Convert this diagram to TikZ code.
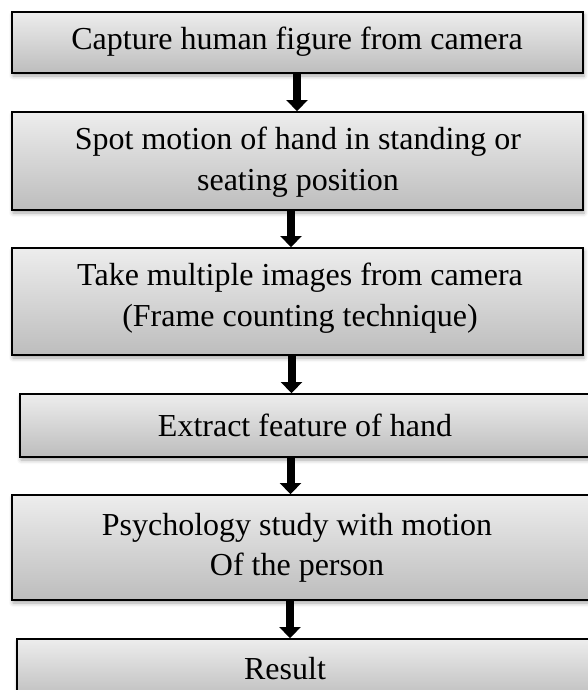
\documentclass[tikz,border=0pt]{standalone}
\usepackage{fontspec}
\setmainfont{Liberation Serif}
\usetikzlibrary{arrows.meta,shadows.blur}
\definecolor{boxtop}{HTML}{EDEDED}
\definecolor{boxbot}{HTML}{BDBDBD}
\tikzset{
  stepbox/.style={draw=black, line width=1.8pt, top color=boxtop, bottom color=boxbot,
    inner sep=0pt,
    blur shadow={shadow xshift=1pt, shadow yshift=-3pt, shadow blur radius=4pt, shadow opacity=35}},
  boxtext/.style={align=center, inner sep=0pt, font=\fontsize{32}{40.5}\selectfont},
  flowarrow/.style={line width=8pt, -{Triangle[width=21pt,length=11pt]}},
}
\begin{document}
\begin{tikzpicture}[x=1pt,y=-1pt]
\useasboundingbox (0,0) rectangle (588,690);
\begin{scope}
\clip (0,0) rectangle (588,690);
\node[stepbox, minimum width=571pt, minimum height=61pt] (b1) at (297.5,42.5) {};
\node[stepbox, minimum width=571pt, minimum height=98pt] (b2) at (297.5,161) {};
\node[stepbox, minimum width=571pt, minimum height=107pt] (b3) at (297.5,301.5) {};
\node[stepbox, minimum width=576pt, minimum height=63pt] (b4) at (308,425.5) {};
\node[stepbox, minimum width=584pt, minimum height=105pt] (b5) at (304,547.5) {};
\node[stepbox, minimum width=579pt, minimum height=61pt] (b6) at (306.5,669.5) {};
\end{scope}
\node[boxtext] (t1) at (297,42) {Capture human figure from camera};
\node[boxtext] (t2) at (298,162) {Spot motion of hand in standing or\\seating position};
\node[boxtext] (t3) at (300,298) {Take multiple images from camera\\(Frame counting technique)};
\node[boxtext] (t4) at (305,425) {Extract feature of hand};
\node[boxtext] (t5) at (297,548) {Psychology study with motion\\Of the person};
\node[boxtext] (t6) at (285,669) {Result};
\draw[flowarrow] ([xshift=-0.5pt]b1.south) -- ([xshift=-0.5pt]b2.north);
\draw[flowarrow] ([xshift=-6.5pt]b2.south) -- ([xshift=-6.5pt]b3.north);
\draw[flowarrow] ([xshift=-6pt]b3.south) -- ([xshift=-16.5pt]b4.north);
\draw[flowarrow] ([xshift=-17.5pt]b4.south) -- ([xshift=-13.5pt]b5.north);
\draw[flowarrow] ([xshift=-14pt]b5.south) -- ([xshift=-16.5pt]b6.north);
\end{tikzpicture}
\end{document}
